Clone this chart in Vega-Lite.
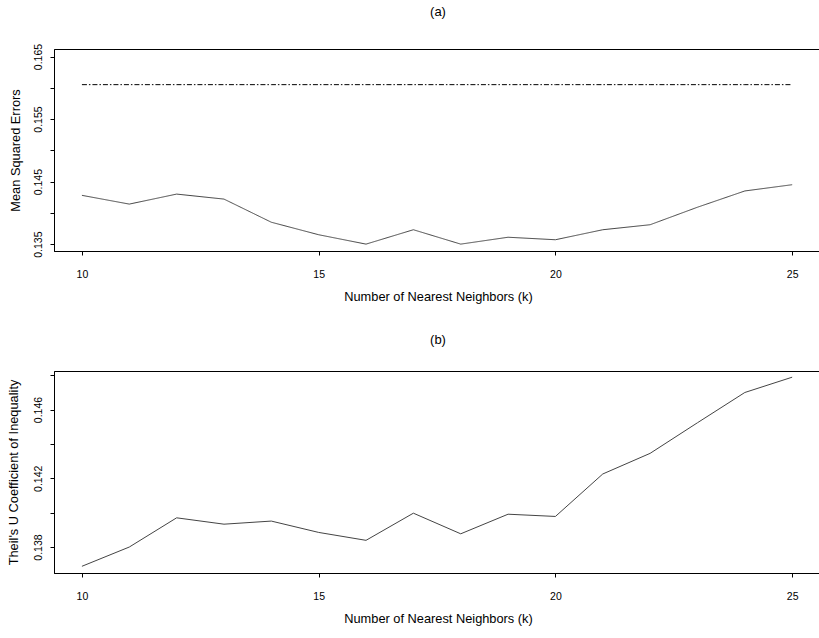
{
  "$schema": "https://vega.github.io/schema/vega-lite/v6.json",
  "padding": {"left": 6, "top": 5, "right": 0, "bottom": 0},
  "background": "white",
  "bounds": "flush",
  "spacing": 120,
  "config": {
    "font": "Liberation Sans",
    "view": {"stroke": "#000", "strokeWidth": 1},
    "axis": {
      "domainColor": "#000",
      "tickColor": "#000",
      "tickSize": 4,
      "labelColor": "#000",
      "titleColor": "#000",
      "labelFont": "Liberation Sans",
      "titleFont": "Liberation Sans",
      "labelFontSize": 10.5,
      "titleFontSize": 12.8,
      "titleFontWeight": "normal",
      "grid": false
    },
    "title": {"font": "Liberation Sans", "fontSize": 13, "fontWeight": "normal", "color": "#000", "anchor": "middle", "offset": 24.5}
  },
  "datasets": {
    "a": [
      {"k": 10, "series": "Average", "value": 0.1428},
      {"k": 11, "series": "Average", "value": 0.1414},
      {"k": 12, "series": "Average", "value": 0.1430},
      {"k": 13, "series": "Average", "value": 0.1422},
      {"k": 14, "series": "Average", "value": 0.1385},
      {"k": 15, "series": "Average", "value": 0.1365},
      {"k": 16, "series": "Average", "value": 0.1350},
      {"k": 17, "series": "Average", "value": 0.1373},
      {"k": 18, "series": "Average", "value": 0.1350},
      {"k": 19, "series": "Average", "value": 0.1361},
      {"k": 20, "series": "Average", "value": 0.1357},
      {"k": 21, "series": "Average", "value": 0.1373},
      {"k": 22, "series": "Average", "value": 0.1381},
      {"k": 23, "series": "Average", "value": 0.1409},
      {"k": 24, "series": "Average", "value": 0.1435},
      {"k": 25, "series": "Average", "value": 0.1445},
      {"k": 10, "series": "Benchmark", "value": 0.1605},
      {"k": 11, "series": "Benchmark", "value": 0.1605},
      {"k": 12, "series": "Benchmark", "value": 0.1605},
      {"k": 13, "series": "Benchmark", "value": 0.1605},
      {"k": 14, "series": "Benchmark", "value": 0.1605},
      {"k": 15, "series": "Benchmark", "value": 0.1605},
      {"k": 16, "series": "Benchmark", "value": 0.1605},
      {"k": 17, "series": "Benchmark", "value": 0.1605},
      {"k": 18, "series": "Benchmark", "value": 0.1605},
      {"k": 19, "series": "Benchmark", "value": 0.1605},
      {"k": 20, "series": "Benchmark", "value": 0.1605},
      {"k": 21, "series": "Benchmark", "value": 0.1605},
      {"k": 22, "series": "Benchmark", "value": 0.1605},
      {"k": 23, "series": "Benchmark", "value": 0.1605},
      {"k": 24, "series": "Benchmark", "value": 0.1605},
      {"k": 25, "series": "Benchmark", "value": 0.1605}
    ],
    "b": [
      {"k": 10, "value": 0.13688},
      {"k": 11, "value": 0.13800},
      {"k": 12, "value": 0.13970},
      {"k": 13, "value": 0.13933},
      {"k": 14, "value": 0.13951},
      {"k": 15, "value": 0.13885},
      {"k": 16, "value": 0.13839},
      {"k": 17, "value": 0.13997},
      {"k": 18, "value": 0.13877},
      {"k": 19, "value": 0.13991},
      {"k": 20, "value": 0.13978},
      {"k": 21, "value": 0.14225},
      {"k": 22, "value": 0.14345},
      {"k": 23, "value": 0.14523},
      {"k": 24, "value": 0.14699},
      {"k": 25, "value": 0.14788}
    ]
  },
  "vconcat": [
    {
      "title": "(a)",
      "width": 768,
      "height": 202,
      "data": {"name": "a"},
      "mark": {"type": "line", "color": "#444", "strokeWidth": 1},
      "encoding": {
        "x": {
          "field": "k", "type": "quantitative",
          "scale": {"domain": [9.41, 25.63], "nice": false, "zero": false},
          "axis": {"values": [10, 15, 20, 25], "title": "Number of Nearest Neighbors (k)", "labelPadding": 14, "titlePadding": 10.5}
        },
        "y": {
          "field": "value", "type": "quantitative",
          "scale": {"domain": [0.1339, 0.1662], "nice": false, "zero": false},
          "axis": {
            "values": [0.135, 0.14, 0.145, 0.15, 0.155, 0.16, 0.165],
            "format": ".3f",
            "labelExpr": "indexof(['0.135','0.145','0.155','0.165'], datum.label) >= 0 ? datum.label : ''",
            "labelAngle": -90, "labelAlign": "center", "labelBaseline": "bottom",
            "labelPadding": 7,
            "title": "Mean Squared Errors", "titlePadding": 11
          }
        },
        "strokeDash": {
          "field": "series", "type": "nominal",
          "scale": {"domain": ["Average", "Benchmark"], "range": [[1, 0], [5, 2, 1.5, 2]]},
          "legend": null
        },
        "color": {
          "field": "series", "type": "nominal",
          "scale": {"domain": ["Average", "Benchmark"], "range": ["#444", "#000"]},
          "legend": null
        }
      }
    },
    {
      "title": "(b)",
      "width": 768,
      "height": 202,
      "data": {"name": "b"},
      "mark": {"type": "line", "color": "#444", "strokeWidth": 1},
      "encoding": {
        "x": {
          "field": "k", "type": "quantitative",
          "scale": {"domain": [9.41, 25.63], "nice": false, "zero": false},
          "axis": {"values": [10, 15, 20, 25], "title": "Number of Nearest Neighbors (k)", "labelPadding": 14, "titlePadding": 10.5}
        },
        "y": {
          "field": "value", "type": "quantitative",
          "scale": {"domain": [0.13649, 0.14824], "nice": false, "zero": false},
          "axis": {
            "values": [0.138, 0.14, 0.142, 0.144, 0.146, 0.148],
            "format": ".3f",
            "labelExpr": "indexof(['0.138','0.142','0.146'], datum.label) >= 0 ? datum.label : ''",
            "labelAngle": -90, "labelAlign": "center", "labelBaseline": "bottom",
            "labelPadding": 7,
            "title": "Theil's U Coefficient of Inequality", "titlePadding": 13
          }
        }
      }
    }
  ]
}
